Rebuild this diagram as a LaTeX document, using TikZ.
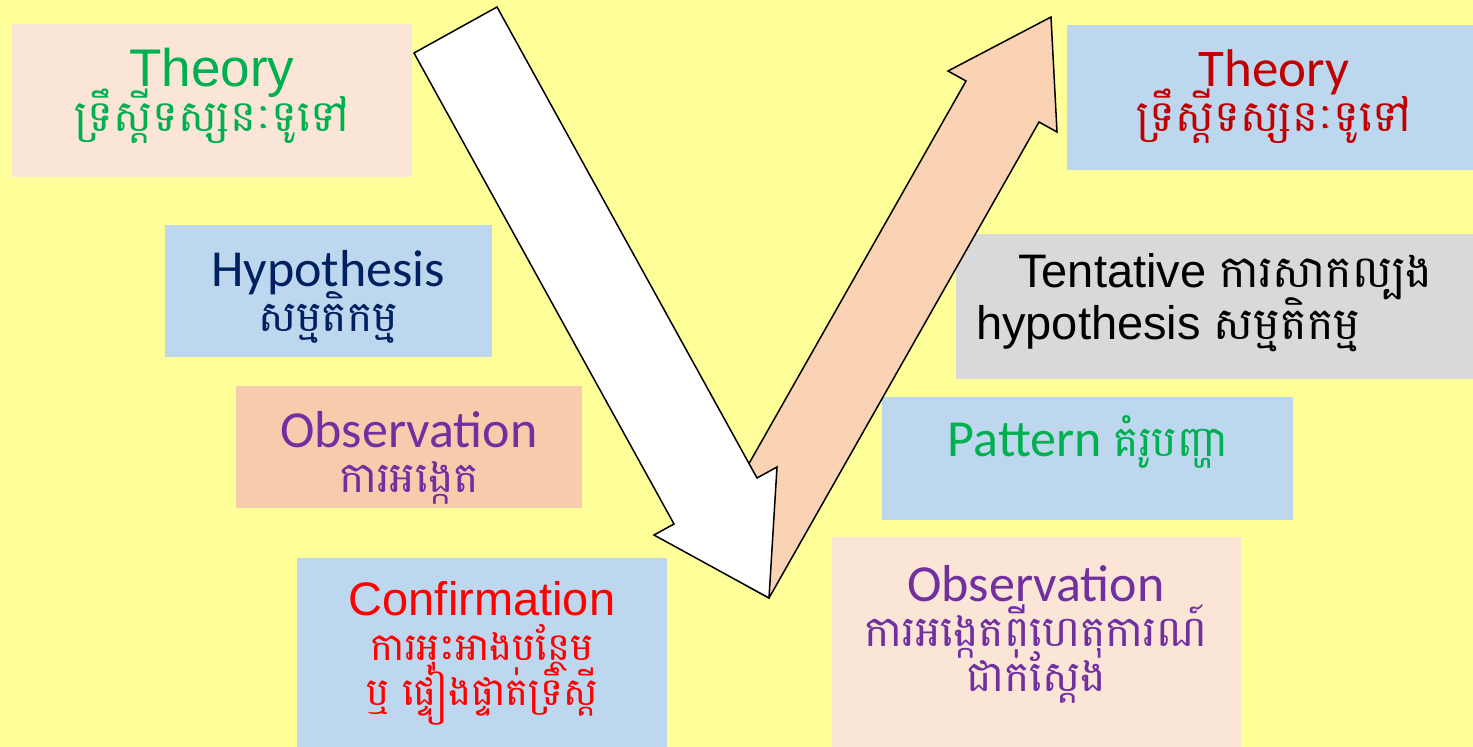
\documentclass[tikz,border=0pt]{standalone}
\usepackage{fontspec}
\setmainfont{Liberation Sans}
\newfontfamily\calibri{Carlito}
\newfontfamily\khmer[Script=Khmer, Scale=0.82]{Battambang}
\newfontfamily\khmerbig[Script=Khmer, Scale=0.95]{Battambang}
\usetikzlibrary{positioning}
\definecolor{bgyellow}{HTML}{FFFF99}
\definecolor{peachlt}{HTML}{FBE5D6}
\definecolor{peach}{HTML}{F8CBAD}
\definecolor{arrpeach}{HTML}{F9D3B3}
\definecolor{boxblue}{HTML}{BDD7EE}
\definecolor{boxgrey}{HTML}{D9D9D9}
\definecolor{txtgreen}{HTML}{00B050}
\definecolor{txtnavy}{HTML}{002060}
\definecolor{txtpurple}{HTML}{7030A0}
\definecolor{txtred}{HTML}{FF0000}
\definecolor{txtdkred}{HTML}{C00000}
\newcommand{\kh}[1]{{\khmer #1}}
\newcommand{\khb}[1]{{\khmerbig #1}}
\newcommand{\fsz}[1]{\fontsize{#1}{45}\selectfont\lineskiplimit=-100pt}
\newcommand{\fszwide}[1]{\fontsize{#1}{52}\selectfont\lineskiplimit=-100pt}

\begin{document}
\begin{tikzpicture}[x=1pt, y=-1pt,
  box/.style={rectangle, inner sep=0pt},
  txt/.style={align=center, inner sep=0pt},
  blockarr/.style={draw=black, line width=1.5pt}
]
\fill[bgyellow] (0,0) rectangle (1473,747);
\useasboundingbox (0,0) rectangle (1473,747);

\node[box, fill=peachlt, minimum width=400, minimum height=153] (theoryL) at (212,100.5) {};
\node[box, fill=boxblue, minimum width=327, minimum height=132] (hypo) at (328.5,291) {};
\node[box, fill=peach, minimum width=346, minimum height=122] (obsL) at (409,447) {};
\node[box, fill=boxblue, minimum width=370, minimum height=189] (confirm) at (482,652.5) {};
\node[box, fill=boxblue, minimum width=406, minimum height=145] (theoryR) at (1270,97.5) {};
\node[box, fill=boxgrey, minimum width=517, minimum height=145] (tent) at (1214.5,306.5) {};
\node[box, fill=boxblue, minimum width=411, minimum height=123] (pattern) at (1087.5,458.5) {};
\node[box, fill=peachlt, minimum width=409, minimum height=210] (obsR) at (1036.5,642) {};

\node[txt, text=txtgreen, font=\fsz{53}] (theoryLtext) at (212,96) {Theory\\\kh{ទ្រឹស្តីទស្សនៈទូទៅ}};
\node[txt, text=txtnavy, font=\fsz{52}\calibri] (hypotext) at (328,297) {Hypothesis\\\kh{សម្មតិកម្ម}};
\node[txt, text=txtpurple, font=\fsz{52}\calibri] (obsLtext) at (409,458) {Observation\\\kh{ការអង្កេត}};
\node[txt, text=txtred, font=\fsz{47}] (confirmtext) at (482,653) {Confirmation\\\kh{ការអុះអាងបន្ថែម}\\\kh{ឬ ផ្ទៀងផ្ទាត់ទ្រឹស្តី}};
\node[txt, text=txtdkred, font=\fsz{53}\calibri] (theoryRtext) at (1274,97) {Theory\\\kh{ទ្រឹស្តីទស្សនៈទូទៅ}};
\node[txt, align=left, anchor=west, text=black, font=\fszwide{47}] (tenttext) at (976,303) {\hspace{42pt}Tentative \khb{ការសាកល្បង}\\hypothesis \khb{សម្មតិកម្ម}};
\node[txt, text=txtgreen, font=\fsz{52}\calibri] (patterntext) at (1088,442) {Pattern \kh{គំរូបញ្ហា}};
\node[txt, text=txtpurple, font=\fsz{52}\calibri] (obsRtext) at (1036,634) {Observation\\\kh{ការអង្កេតពីហេតុការណ៍}\\\kh{ជាក់ស្តែង}};

\draw[blockarr, fill=arrpeach] (696,557) -- (966,81) -- (948,71) -- (1051,17)
  -- (1057,132) -- (1039,122) -- (769,598) -- cycle;
\draw[blockarr, fill=white] (414,53) -- (497,7) -- (757,478) -- (777,467)
  -- (769,598) -- (654,535) -- (674,524) -- cycle;
\end{tikzpicture}
\end{document}
